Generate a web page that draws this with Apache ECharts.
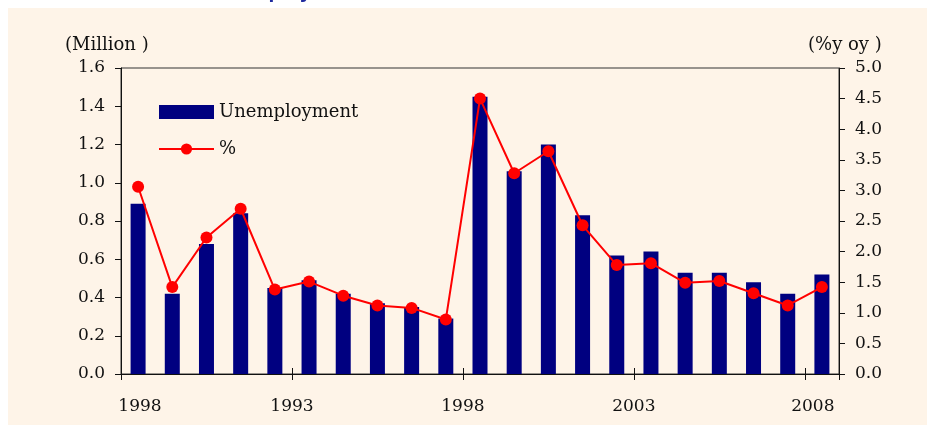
<!DOCTYPE html>
<html>
<head>
<meta charset="utf-8">
<script src="https://cdn.jsdelivr.net/npm/echarts@6/dist/echarts.min.js"></script>
<style>
html,body{margin:0;padding:0;background:#ffffff;}
#bg{position:absolute;left:8px;top:8px;width:919px;height:417px;background:#FEF4E8;}
#chart{position:absolute;left:0;top:0;width:927px;height:425px;}
</style>
</head>
<body>
<div id="bg"></div>
<div id="chart"></div>
<script>
var years = ['1988','1989','1990','1991','1992','1993','1994','1995','1996','1997','1998',
             '1999','2000','2001','2002','2003','2004','2005','2006','2007','2008'];
var unemployment = [0.89,0.42,0.68,0.84,0.45,0.49,0.42,0.37,0.35,0.29,1.45,
                    1.06,1.20,0.83,0.62,0.64,0.53,0.53,0.48,0.42,0.52];
var pctYoy = [3.06,1.42,2.23,2.70,1.38,1.51,1.28,1.12,1.08,0.89,4.50,
              3.28,3.64,2.43,1.78,1.81,1.49,1.52,1.32,1.12,1.42];
var xTickLabels = {0:'1998', 5:'1993', 10:'1998', 15:'2003', 20:'2008'};

var serif = 'DejaVu Serif';
var txt = {fontFamily: serif, fontSize: 17, color: '#111'};

var chart = echarts.init(document.getElementById('chart'), null, {renderer: 'canvas'});
chart.setOption({
  backgroundColor: 'transparent',
  animation: false,
  grid: {left: 121, right: 88, top: 68, bottom: 51, show: true, borderColor: '#333', borderWidth: 1, backgroundColor: 'transparent'},
  legend: {
    orient: 'vertical', left: 158, top: 103, padding: 0, itemWidth: 55, itemHeight: 14, itemGap: 19,
    textStyle: {fontFamily: serif, fontSize: 18, color: '#111'},
    data: [{name: 'Unemployment', icon: 'rect'}, {name: '%'}]
  },
  graphic: [
    {type: 'text', left: 65, top: 36, style: {text: '(Million )', font: '18px "DejaVu Serif"', fill: '#111'}},
    {type: 'text', left: 808, top: 36, style: {text: '(%y oy )', font: '18px "DejaVu Serif"', fill: '#111'}},
    {type: 'text', left: 118, top: -18, style: {text: 'Thailand Unemployment', font: 'bold 21px "Liberation Sans"', fill: '#1F2A9E'}}
  ],
  xAxis: [
    {type: 'category', data: years, boundaryGap: true, position: 'bottom',
     axisLine: {show: true, onZero: false, lineStyle: {color: '#111', width: 1}},
     axisTick: {show: false}, axisLabel: {show: false}, splitLine: {show: false}},
    {type: 'value', min: 0, max: 21, interval: 5, position: 'bottom',
     axisLine: {show: false, onZero: false},
     axisTick: {show: true, length: 6, inside: false, lineStyle: {color: '#111'}},
     splitLine: {show: false},
     axisLabel: {margin: 24, fontFamily: serif, fontSize: 17, color: '#111',
       formatter: function (v) {
         if (v === 0) return '{a|' + xTickLabels[0] + '}';
         if (v === 20) return '{b|' + xTickLabels[20] + '}';
         return xTickLabels[v] || '';
       },
       rich: {
         a: {fontFamily: serif, fontSize: 17, color: '#111', padding: [0,0,0,38]},
         b: {fontFamily: serif, fontSize: 17, color: '#111', padding: [0,0,0,16]}
       }}},
    {type: 'value', min: 0, max: 21, interval: 5, position: 'bottom',
     axisLine: {show: false, onZero: false},
     axisTick: {show: true, length: 6, inside: true, lineStyle: {color: '#111'}},
     axisLabel: {show: false}, splitLine: {show: false}}
  ],
  yAxis: [
    {type: 'value', min: 0, max: 1.6, interval: 0.2, position: 'left',
     axisLine: {show: true, onZero: false, lineStyle: {color: '#111'}},
     axisTick: {show: true, length: 6, lineStyle: {color: '#111'}},
     splitLine: {show: false},
     axisLabel: Object.assign({margin: 16, formatter: function (v) { return v.toFixed(1); }}, txt)},
    {type: 'value', min: 0, max: 5, interval: 0.5, position: 'right',
     axisLine: {show: true, onZero: false, lineStyle: {color: '#111'}},
     axisTick: {show: true, length: 6, lineStyle: {color: '#111'}},
     splitLine: {show: false},
     axisLabel: Object.assign({margin: 16, formatter: function (v) { return v.toFixed(1); }}, txt)}
  ],
  series: [
    {name: 'Unemployment', type: 'bar', xAxisIndex: 0, yAxisIndex: 0, data: unemployment,
     barWidth: 15, itemStyle: {color: '#000080'}},
    {name: '%', type: 'line', xAxisIndex: 0, yAxisIndex: 1, data: pctYoy,
     symbol: 'circle', symbolSize: 12, lineStyle: {color: '#FF0000', width: 2},
     itemStyle: {color: '#FF0000'}}
  ]
});
</script>
</body>
</html>
